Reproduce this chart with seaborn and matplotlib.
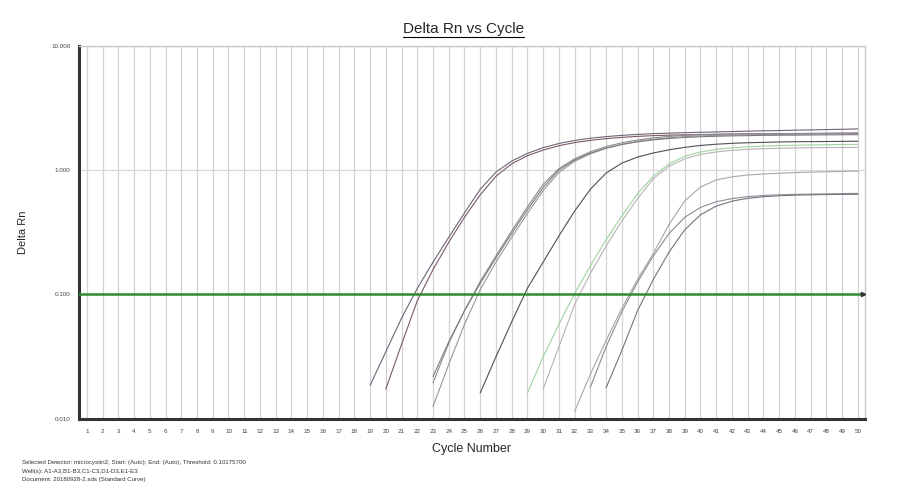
import numpy as np
import pandas as pd
import seaborn as sns
import matplotlib.pyplot as plt

# amplification curves (first cycle, Delta Rn per cycle up to 50)
start_a = 19
rn_a = [0.0186, 0.0347, 0.0646, 0.112, 0.182, 0.288, 0.452, 0.700, 0.962, 1.18,
        1.36, 1.51, 1.633, 1.726, 1.80, 1.854, 1.897, 1.932, 1.959, 1.977,
        1.995, 2.009, 2.023, 2.037, 2.051, 2.065, 2.075, 2.089, 2.099, 2.113,
        2.123, 2.138]
start_b = 20
rn_b = [0.0174, 0.0398, 0.0891, 0.1585, 0.263, 0.417, 0.631, 0.891, 1.122, 1.303,
        1.445, 1.567, 1.66, 1.73, 1.786, 1.828, 1.862, 1.888, 1.905, 1.919,
        1.928, 1.936, 1.945, 1.95, 1.954, 1.959, 1.963, 1.968, 1.972, 1.977,
        1.982]
start_c = 23
rn_c = [0.0195, 0.0407, 0.0741, 0.1274, 0.2042, 0.3236, 0.5058, 0.767, 1.026, 1.23,
        1.40, 1.542, 1.656, 1.742, 1.811, 1.862, 1.897, 1.919, 1.932, 1.941,
        1.945, 1.95, 1.954, 1.959, 1.963, 1.968, 1.972, 1.977]
start_d = 23
rn_d = [0.0126, 0.0275, 0.0575, 0.1096, 0.182, 0.288, 0.447, 0.684, 0.955, 1.175,
        1.349, 1.496, 1.611, 1.698, 1.766, 1.816, 1.854, 1.879, 1.897, 1.91,
        1.919, 1.928, 1.932, 1.936, 1.941, 1.945, 1.95, 1.95]
start_k = 23
rn_k = [0.0219, 0.0417, 0.0741, 0.123, 0.197, 0.309, 0.479, 0.724, 1.0, 1.202,
        1.365, 1.496, 1.603, 1.683, 1.746, 1.791, 1.824, 1.849, 1.866, 1.879,
        1.888, 1.897, 1.901, 1.905, 1.91, 1.914, 1.919, 1.923]
start_e = 26
rn_e = [0.0162, 0.0316, 0.0603, 0.1122, 0.182, 0.295, 0.468, 0.700, 0.945, 1.135,
        1.27, 1.37, 1.452, 1.521, 1.574, 1.611, 1.637, 1.656, 1.667, 1.679,
        1.687, 1.69, 1.694, 1.698, 1.702]
start_f = 29
rn_f = [0.0162, 0.0316, 0.0575, 0.102, 0.17, 0.275, 0.427, 0.646, 0.891, 1.122,
        1.288, 1.396, 1.462, 1.507, 1.535, 1.556, 1.570, 1.581, 1.589, 1.596,
        1.603, 1.607]
start_g = 30
rn_g = [0.0174, 0.038, 0.0832, 0.148, 0.245, 0.389, 0.589, 0.851, 1.072, 1.23,
        1.334, 1.396, 1.439, 1.466, 1.483, 1.496, 1.503, 1.510, 1.514, 1.517,
        1.52]
start_h = 32
rn_h = [0.0115, 0.0229, 0.0427, 0.0776, 0.132, 0.214, 0.365, 0.565, 0.730, 0.832,
        0.881, 0.912, 0.929, 0.942, 0.953, 0.962, 0.968, 0.975, 0.98]
start_i = 33
rn_i = [0.018, 0.038, 0.0724, 0.126, 0.204, 0.309, 0.417, 0.501, 0.556, 0.589,
        0.611, 0.624, 0.632, 0.637, 0.64, 0.643, 0.646, 0.649]
start_j = 34
rn_j = [0.0178, 0.0355, 0.0741, 0.132, 0.219, 0.331, 0.437, 0.513, 0.562, 0.592,
        0.61, 0.621, 0.628, 0.632, 0.635, 0.637, 0.638]

threshold = 0.10175700
x_ticks = list(range(1, 51))
y_ticks = [0.01, 0.1, 1, 10]
y_labels = ["0.010", "0.100", "1.000", "10.000"]

curves = {
    "A": (start_a, rn_a), "B": (start_b, rn_b), "C": (start_c, rn_c),
    "D": (start_d, rn_d), "K": (start_k, rn_k), "E": (start_e, rn_e),
    "F": (start_f, rn_f), "G": (start_g, rn_g), "H": (start_h, rn_h),
    "I": (start_i, rn_i), "J": (start_j, rn_j),
}
colors = {
    "A": "#6e6478", "B": "#7a5a66", "C": "#8c8c8c", "D": "#9a93a3",
    "K": "#7d7d7d", "E": "#4f4f55", "F": "#9fd39f", "G": "#b4b4b4",
    "H": "#a6a6a6", "I": "#8e8a96", "J": "#77737f",
}

rows = []
for well, (first, vals) in curves.items():
    for n, v in enumerate(vals):
        rows.append({"well": well, "cycle": first + n, "rn": v})
df = pd.DataFrame(rows)

sns.set_style("white")
plt.rcParams["font.family"] = ["Liberation Sans", "DejaVu Sans"]

fig = plt.figure(figsize=(9, 5), dpi=100)
ax = fig.add_axes([0.0878, 0.162, 0.8732, 0.747])

for x in x_ticks:
    ax.axvline(x, color="#d2d2d2", lw=0.9, zorder=0)
for y in [1, 10]:
    ax.axhline(y, color="#d8d8d8", lw=0.9, zorder=0)

sns.lineplot(data=df, x="cycle", y="rn", hue="well", palette=colors,
             estimator=None, legend=False, lw=0.8, ax=ax)

ax.axhline(threshold, color="#2f8a2f", lw=1.8, zorder=3)
ax.plot([50.3], [threshold], marker=">", color="#333333", ms=3, zorder=4, clip_on=False)

ax.set_yscale("log")
ax.set_ylim(0.01, 10)
ax.set_xlim(0.5, 50.45)
ax.set_xticks(x_ticks)
ax.set_xticklabels([str(t) for t in x_ticks], fontsize=4.5, color="#444444")
ax.set_yticks(y_ticks)
ax.set_yticklabels(y_labels, fontsize=4.5, color="#444444")
ax.minorticks_off()
ax.tick_params(length=0, pad=7)
ax.tick_params(axis="y", pad=6)

for s in ["top", "right"]:
    ax.spines[s].set_color("#c8c8c8")
    ax.spines[s].set_linewidth(1)
for s in ["left", "bottom"]:
    ax.spines[s].set_color("#333333")
    ax.spines[s].set_linewidth(2.2)

ax.set_xlabel("Cycle Number", fontsize=9, labelpad=7)
ax.set_ylabel("Delta Rn", fontsize=8, labelpad=17)

title = fig.text(0.515, 0.943, "Delta Rn vs Cycle", ha="center", va="center", fontsize=11)
fig.canvas.draw()
bb = title.get_window_extent().transformed(fig.transFigure.inverted())
fig.add_artist(plt.Line2D([bb.x0, bb.x1], [bb.y0 - 0.003, bb.y0 - 0.003],
                          color="black", lw=0.8, transform=fig.transFigure))

footer = [
    "Selected Detector: microcystin2; Start: (Auto); End: (Auto); Threshold: 0.10175700",
    "Well(s): A1-A3,B1-B3,C1-C3,D1-D3,E1-E3",
    "Document: 20180928-2.sds (Standard Curve)",
]
for n, line in enumerate(footer):
    fig.text(0.024, 0.075 - n * 0.017, line, fontsize=4.4, color="#333333", va="center")

fig.savefig("out.png", dpi=100)
